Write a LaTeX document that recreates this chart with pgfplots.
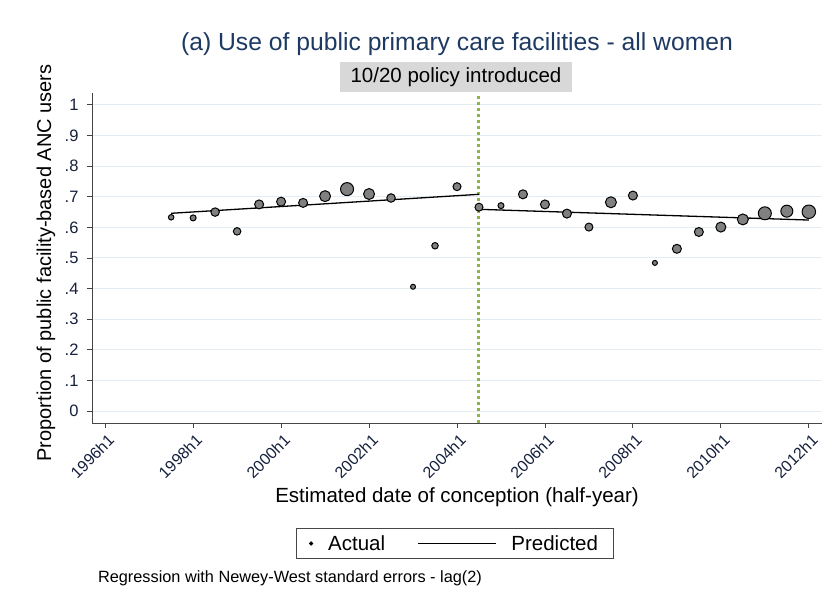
\documentclass[border=0pt]{standalone}
\usepackage{fontspec}
\setmainfont{Liberation Sans}
\usepackage{pgfplots}
\pgfplotsset{compat=1.18}

\definecolor{titlenavy}{RGB}{30,58,98}
\definecolor{ticknavy}{RGB}{22,32,60}
\definecolor{gridc}{RGB}{228,238,242}
\definecolor{markgray}{RGB}{128,128,128}
\definecolor{policygreen}{RGB}{140,180,70}
\definecolor{boxgray}{RGB}{216,216,216}
\definecolor{axisc}{RGB}{70,70,70}

\pgfplotstableread{
t  y     r
3  0.633 2.75
4  0.631 3.0
5  0.650 4.25
6  0.587 3.75
7  0.675 4.5
8  0.684 4.5
9  0.680 4.5
10 0.702 5.5
11 0.725 6.5
12 0.709 5.5
13 0.696 4.25
14 0.406 2.5
15 0.540 3.25
16 0.733 4.0
17 0.666 4.0
18 0.671 3.0
19 0.708 4.5
20 0.675 4.5
21 0.645 4.5
22 0.601 4.0
23 0.682 5.5
24 0.704 4.5
25 0.484 2.5
26 0.530 4.5
27 0.585 4.5
28 0.601 5.0
29 0.626 5.5
30 0.646 6.5
31 0.653 6.0
32 0.651 6.75
}\actual

\begin{document}
\begin{tikzpicture}
\path[use as bounding box] (-92pt,-186pt) rectangle (737pt,423pt);
\begin{axis}[
  at={(0pt,0pt)}, anchor=south west,
  scale only axis, width=730pt, height=330pt,
  xmin=-0.6, xmax=32.6, ymin=-0.039, ymax=1.039,
  axis x line*=bottom, axis y line*=left,
  axis line style={axisc, line width=0.9pt, -},
  xtick={0,4,8,12,16,20,24,28,32},
  xticklabels={1996h1,1998h1,2000h1,2002h1,2004h1,2006h1,2008h1,2010h1,2012h1},
  ytick={0,0.1,0.2,0.3,0.4,0.5,0.6,0.7,0.8,0.9,1},
  yticklabels={0,.1,.2,.3,.4,.5,.6,.7,.8,.9,1},
  tick align=outside, major tick length=5pt,
  tick style={axisc, line width=0.9pt},
  xticklabel style={rotate=45, anchor=east, font=\fontsize{16}{18}\selectfont, text=ticknavy, xshift=1pt, yshift=-11pt},
  yticklabel style={font=\fontsize{16.5}{18}\selectfont, text=ticknavy, xshift=-5pt},
  ymajorgrids, grid style={gridc, line width=1pt},
  clip=false,
  xlabel={Estimated date of conception (half-year)},
  ylabel={Proportion of public facility-based ANC users},
  xlabel style={at={(axis description cs:0.5,-0.2242)}, anchor=center, font=\fontsize{20.5}{24}\selectfont},
  ylabel style={at={(axis description cs:-0.063,0.485)}, anchor=center, font=\fontsize{20}{24}\selectfont},
  legend style={at={(axis description cs:0.4966,-0.365)}, anchor=center, legend columns=2,
    draw=axisc, line width=0.8pt, font=\fontsize{20.5}{24}\selectfont,
    inner xsep=13pt, inner ysep=5pt,
    /tikz/every odd column/.append style={column sep=13pt},
    /tikz/every even column/.append style={column sep=30pt}},
]
\addplot[forget plot, policygreen, line width=3pt, dash pattern=on 3pt off 3pt] coordinates {(17,-0.039) (17,1.039)};
\addplot[forget plot, black, line width=1.3pt] coordinates {(3,0.646) (17,0.708)};
\addplot[forget plot, black, line width=1.3pt] coordinates {(17,0.659) (32,0.624)};
\addplot[forget plot, scatter, only marks, mark=*,
  scatter/use mapped color={draw=black, fill=markgray},
  line width=1pt,
  visualization depends on={\thisrow{r} \as \perpointmarksize},
  scatter/@pre marker code/.append style={/tikz/mark size=\perpointmarksize}
] table[x=t, y=y] {\actual};
\addlegendimage{legend image code/.code={\fill[black] (0pt,0pt) circle (1.7pt);}}
\addlegendentry{Actual}
\addlegendimage{legend image code/.code={\draw[black, line width=1.2pt] (0pt,0pt) -- (78pt,0pt);}}
\addlegendentry{Predicted}
\node[font=\fontsize{24.7}{28}\selectfont, text=titlenavy] at (axis description cs:0.5,1.148) {(a) Use of public primary care facilities - all women};
\node[fill=boxgray, minimum width=232pt, minimum height=30pt, inner sep=0pt, font=\fontsize{20.5}{24}\selectfont] at (axis description cs:0.4986,1.0485) {10/20 policy introduced};
\node[anchor=west, font=\fontsize{16.3}{19}\selectfont] at (axis description cs:0.0035,-0.4697) {Regression with Newey-West standard errors - lag(2)};
\end{axis}
\end{tikzpicture}
\end{document}
